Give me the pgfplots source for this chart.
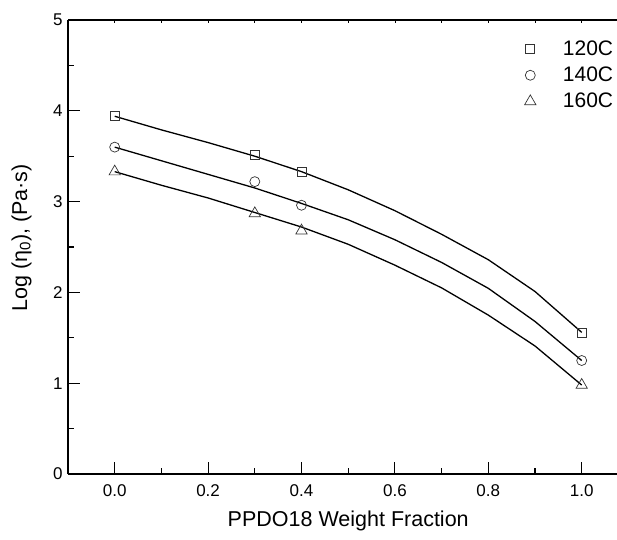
\documentclass[border=0pt]{standalone}
\usepackage{pgfplots}
\pgfplotsset{compat=1.18}
\usepackage{pgfplotstable}
\usepackage{fontspec}
\setmainfont{Liberation Sans}

\pgfplotstableread{
x y120 y140 y160
0.0 3.94 3.60 3.33
0.1 3.79 3.45 3.18
0.2 3.65 3.30 3.04
0.3 3.50 3.15 2.88
0.4 3.33 2.98 2.72
0.5 3.13 2.80 2.53
0.6 2.90 2.58 2.30
0.7 2.64 2.33 2.05
0.8 2.36 2.045 1.75
0.9 2.01 1.68 1.41
1.0 1.56 1.25 0.98
}\fits

\pgfplotstableread{
x y120 y140 y160
0.0 3.94 3.60 3.33
0.3 3.52 3.22 2.87
0.4 3.33 2.96 2.68
1.0 1.56 1.25 0.98
}\pts

\begin{document}
\begin{tikzpicture}
\begin{axis}[
  name=main,
  scale only axis,
  width=560.4pt, height=454pt,
  xmin=-0.1, xmax=1.1, ymin=0, ymax=5,
  axis x line*=bottom, axis y line*=left,
  axis line style={line width=1.3pt},
  tick align=inside,
  tick style={line width=1.1pt, black},
  major tick length=12pt, minor tick length=6pt,
  xtick={0,0.2,0.4,0.6,0.8,1.0},
  minor x tick num=1,
  ytick={0,1,2,3,4,5},
  minor y tick num=1,
  /pgf/number format/assume math mode=true,
  x tick label style={/pgf/number format/fixed, /pgf/number format/fixed zerofill, /pgf/number format/precision=1, yshift=-7pt},
  ticklabel style={font=\fontsize{17}{20}\selectfont},
  y tick label style={xshift=-2pt},
  xlabel={PPDO18 Weight Fraction},
  ylabel={Log (η\textsubscript{0}), (Pa·s)},
  label style={font=\fontsize{21.5}{24}\selectfont},
  xlabel style={at={(axis description cs:0.5,-0.104)}, anchor=center},
  ylabel style={at={(axis description cs:-0.083,0.52)}, anchor=center},
  legend style={at={(axis cs:0.871,4.815)}, anchor=north west, draw=none, fill=none,
    nodes={font=\fontsize{21}{24}\selectfont}, row sep=6pt,
    /tikz/every odd column/.append style={column sep=25pt}},
  legend cell align=left,
]
\addplot[black, line width=1.3pt, forget plot] table[x=x, y=y120] {\fits};
\addplot[black, line width=1.3pt, forget plot] table[x=x, y=y140] {\fits};
\addplot[black, line width=1.3pt, forget plot] table[x=x, y=y160] {\fits};
\addplot[only marks, mark=square, mark size=4.5pt, mark options={draw=black!80, fill=none, line width=0.7pt}] table[x=x, y=y120] {\pts};
\addplot[only marks, mark=o, mark size=5pt, mark options={draw=black!80, fill=none, line width=0.7pt}] table[x=x, y=y140] {\pts};
\addplot[only marks, mark=triangle, mark size=6.5pt, mark options={draw=black!80, fill=none, line width=0.7pt}] table[x=x, y=y160] {\pts};
\legend{120C, 140C, 160C}
\end{axis}
\begin{axis}[
  scale only axis,
  width=560.4pt, height=454pt,
  xmin=-0.1, xmax=1.1, ymin=0, ymax=5,
  axis x line*=top, axis y line=none,
  axis line style={line width=1.3pt},
  tick align=inside,
  tick style={line width=0.8pt, black},
  major tick length=3pt,
  xtick={0,0.1,0.2,0.3,0.4,0.5,0.6,0.7,0.8,0.9,1.0},
  xticklabels={},
]
\addplot[draw=none, forget plot] coordinates {(0,0)};
\end{axis}
\pgfresetboundingbox
\useasboundingbox (main.south west) ++(-68pt,-65pt) rectangle ++(617pt,539pt);
\end{tikzpicture}
\end{document}
